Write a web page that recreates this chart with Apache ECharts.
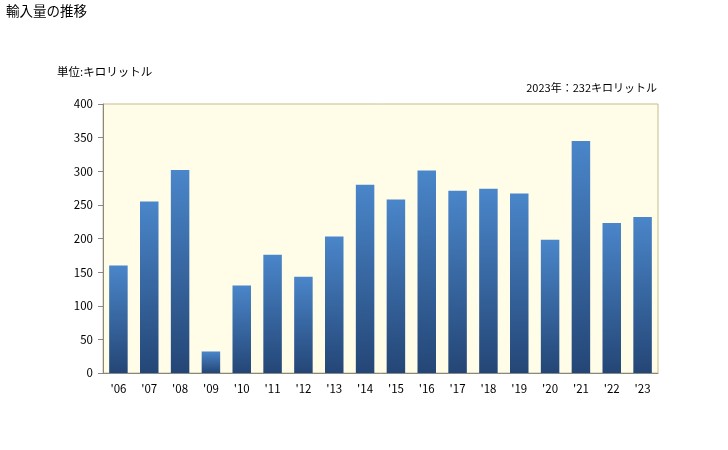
<!DOCTYPE html>
<html>
<head>
<meta charset="utf-8">
<script src="https://cdn.jsdelivr.net/npm/echarts@6/dist/echarts.min.js"></script>
<style>
  html, body { margin: 0; padding: 0; background: #fff; }
  #chart { width: 728px; height: 450px; }
</style>
</head>
<body>
<div id="chart"></div>
<script>
const years = ["'06", "'07", "'08", "'09", "'10", "'11", "'12", "'13", "'14", "'15", "'16", "'17", "'18", "'19", "'20", "'21", "'22", "'23"]
const volumes = [160, 255, 302, 32, 130, 176, 143, 203, 280, 258, 301, 271, 274, 267, 198, 345, 223, 232]
const yTicks = [0, 50, 100, 150, 200, 250, 300, 350, 400]

const font = "'Noto Sans CJK JP', sans-serif"
const chart = echarts.init(document.getElementById("chart"))

chart.setOption({
  animation: false,
  textStyle: { fontFamily: font },
  title: [
    { text: "輸入量の推移", left: 6, top: 4, padding: 0, textStyle: { fontSize: 13.5, fontWeight: "normal", color: "#000", fontFamily: font } },
    { text: "単位:キロリットル", left: 57, top: 66, padding: 0, textStyle: { fontSize: 11.5, fontWeight: "normal", color: "#000", fontFamily: font } },
    { text: "2023年：232キロリットル", right: 71, top: 82, padding: 0, textStyle: { fontSize: 11, fontWeight: "normal", color: "#000", fontFamily: font } },
  ],
  grid: {
    left: 103,
    right: 70,
    top: 104,
    bottom: 77,
    show: true,
    backgroundColor: "#fffde8",
    borderColor: "#c8bc8c",
    borderWidth: 1,
  },
  xAxis: {
    type: "category",
    data: years,
    axisLine: { lineStyle: { color: "#888", width: 1 } },
    axisTick: { show: false },
    axisLabel: { color: "#000", fontSize: 11.5, margin: 10, interval: 0 },
  },
  yAxis: {
    type: "value",
    min: yTicks[0],
    max: yTicks[yTicks.length - 1],
    interval: 50,
    axisLine: { show: true, lineStyle: { color: "#888", width: 1 } },
    axisTick: { show: true, length: 5, lineStyle: { color: "#888" } },
    splitLine: { show: false },
    axisLabel: { color: "#000", fontSize: 11.5, margin: 10 },
  },
  series: [
    {
      type: "bar",
      data: volumes,
      barCategoryGap: "40%",
      itemStyle: {
        color: new echarts.graphic.LinearGradient(0, 0, 0, 1, [
          { offset: 0, color: "#4a86ca" },
          { offset: 1, color: "#244676" },
        ]),
      },
    },
  ],
})
</script>
</body>
</html>
